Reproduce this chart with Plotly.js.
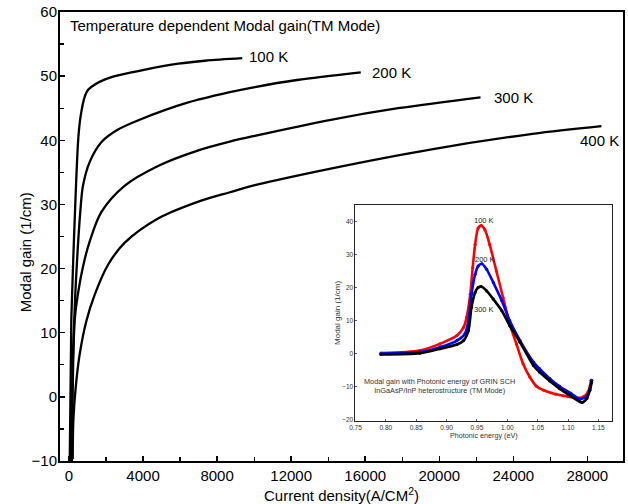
<!DOCTYPE html>
<html>
<head>
<meta charset="utf-8">
<script src="https://cdn.plot.ly/plotly-3.0.1.min.js"></script>
<style>html,body{margin:0;padding:0;background:#fff;}#chart{width:628px;height:504px;}</style>
</head>
<body>
<div id="chart"></div>
<script>
// ---- Main chart data: modal gain vs current density ----
var j100 = [40, 125, 160, 270, 500, 630, 860, 1040, 1950, 3740, 5540, 7340, 9360];
var g100 = [-10, 11.8, 15.3, 24.7, 40.2, 43.8, 46.9, 47.9, 49.5, 50.8, 51.8, 52.4, 52.8];

var j200 = [90, 200, 330, 470, 600, 755, 1115, 1745, 2600, 3815, 6440, 8690, 10040, 12320, 15760];
var g200 = [-10, 5, 15.4, 23, 28.5, 32.9, 36.6, 39.7, 41.6, 43.2, 45.9, 47.5, 48.3, 49.4, 50.6];

var j300 = [160, 305, 480, 755, 1115, 1745, 3000, 4810, 6950, 8690, 10040, 14140, 17780, 22230];
var g300 = [-10, 11.8, 16.0, 20.3, 24.2, 28.8, 32.9, 36.0, 38.4, 39.8, 40.7, 43.2, 45.0, 46.7];

var j400 = [200, 235, 360, 575, 935, 1385, 2110, 3000, 4810, 6950, 8690, 10040, 14140, 19590, 25040, 28760];
var g400 = [-9.7, -3.7, 1.4, 6.6, 11.8, 15.9, 20.6, 24.0, 27.8, 30.4, 31.9, 33.0, 35.6, 38.6, 41.0, 42.2];

var curveLabels = ["100 K", "200 K", "300 K", "400 K"];
var labelX = [9606, 16244, 22828, 27469];
var labelY = [53.0, 50.6, 46.7, 40.0];

var xTickVals = [0, 4000, 8000, 12000, 16000, 20000, 24000, 28000];
var xTickText = ["0", "4000", "8000", "12000", "16000", "20000", "24000", "28000"];
var yTickVals = [-10, 0, 10, 20, 30, 40, 50, 60];

// ---- Inset data: modal gain vs photonic energy ----
var e100 = [0.792, 0.856, 0.889, 0.917, 0.928, 0.933, 0.939, 0.943, 0.947, 0.952, 0.957, 0.963, 0.971, 0.982, 0.993, 1.004, 1.015, 1.026, 1.037, 1.048, 1.06, 1.08, 1.1, 1.113, 1.125, 1.133, 1.138];
var gi100 = [0.2, 1.0, 3.0, 5.5, 8.0, 11, 18, 26, 33, 38, 38.7, 37.5, 33, 25, 17, 9, 3, -3, -7, -9.8, -11, -12.2, -12.9, -13.3, -13, -11.5, -8];

var e200 = [0.792, 0.856, 0.889, 0.917, 0.93, 0.936, 0.941, 0.947, 0.952, 0.958, 0.966, 0.977, 0.991, 1.004, 1.021, 1.043, 1.053, 1.07, 1.086, 1.105, 1.12, 1.131, 1.136, 1.139];
var gi200 = [0.1, 0.5, 2, 4, 6, 10, 18, 24, 26.5, 27.2, 25.5, 21.5, 16, 10, 4, -2.5, -4.5, -7.5, -9.8, -12, -13.7, -12.8, -10.5, -8];

var e300 = [0.792, 0.856, 0.889, 0.917, 0.928, 0.936, 0.941, 0.947, 0.952, 0.957, 0.966, 0.977, 0.991, 1.004, 1.021, 1.043, 1.053, 1.07, 1.086, 1.105, 1.123, 1.131, 1.136, 1.139];
var gi300 = [-0.2, 0.2, 1.5, 2.8, 4, 7, 14, 18.5, 20, 20.3, 19, 16.5, 13, 8.5, 3.5, -3.5, -5.5, -8.2, -10.5, -12.8, -14.7, -13.5, -11, -8.5];

var insetLabels = ["100 K", "200 K", "300 K"];
var insetLabelX = [0.962, 0.964, 0.962];
var insetLabelY = [40.2, 28.5, 13.5];

var insetXTicks = [0.75, 0.80, 0.85, 0.90, 0.95, 1.00, 1.05, 1.10, 1.15];
var insetYTicks = [-20, -10, 0, 10, 20, 30, 40];

var FONT = "'Liberation Sans', Arial, Helvetica, sans-serif";

function mainLine(x, y) {
  return {x: x, y: y, xaxis: 'x', yaxis: 'y', mode: 'lines',
          line: {color: '#000', width: 2.3, shape: 'spline', smoothing: 0.9},
          hoverinfo: 'skip'};
}
function insetLine(x, y, c) {
  return {x: x, y: y, xaxis: 'x2', yaxis: 'y2', mode: 'lines+markers',
          line: {color: c, width: 2.6, shape: 'spline', smoothing: 0.7},
          marker: {color: c, size: 3.2},
          hoverinfo: 'skip'};
}

var traces = [
  mainLine(j100, g100), mainLine(j200, g200), mainLine(j300, g300), mainLine(j400, g400),
  insetLine(e100, gi100, '#ff0000'),
  insetLine(e200, gi200, '#0000ff'),
  insetLine(e300, gi300, '#000000')
];

var annotations = [];
for (var i = 0; i < curveLabels.length; i++) {
  annotations.push({x: labelX[i], y: labelY[i], xref: 'x', yref: 'y', text: curveLabels[i],
    showarrow: false, xanchor: 'left', yanchor: 'middle', font: {size: 15, family: FONT, color: '#000'}});
}
for (var k = 0; k < insetLabels.length; k++) {
  annotations.push({x: insetLabelX[k], y: insetLabelY[k], xref: 'x2', yref: 'y2', text: insetLabels[k],
    showarrow: false, xanchor: 'center', yanchor: 'middle', font: {size: 7.5, family: FONT, color: '#222'}});
}
annotations.push({x: 0.014, y: 0.971, xref: 'paper', yref: 'paper',
  text: 'Temperature dependent Modal gain(TM Mode)', showarrow: false,
  xanchor: 'left', yanchor: 'middle', font: {size: 15, family: FONT, color: '#000'}});
annotations.push({x: -0.0621, y: 0.465, xref: 'paper', yref: 'paper',
  text: 'Modal gain (1/cm)', showarrow: false, textangle: -90,
  xanchor: 'center', yanchor: 'middle', font: {size: 15, family: FONT, color: '#000'}});
annotations.push({x: 0.889, y: -9.6, xref: 'x2', yref: 'y2',
  text: 'Modal gain with Photonic energy of GRIN SCH<br>InGaAsP/InP heterostructure (TM Mode)',
  showarrow: false, xanchor: 'center', yanchor: 'middle', align: 'center',
  font: {size: 7.3, family: FONT, color: '#333'}});

var layout = {
  width: 628, height: 504,
  margin: {l: 60, r: 4.5, t: 12, b: 42.5, pad: 0},
  paper_bgcolor: '#fff', plot_bgcolor: '#fff',
  showlegend: false,
  font: {family: FONT, color: '#000'},
  xaxis: {
    domain: [0, 1], anchor: 'y', range: [-486, 29925],
    tickmode: 'array', tickvals: xTickVals, ticktext: xTickText,
    ticks: 'inside', ticklen: 5, tickwidth: 1.5, tickcolor: '#000',
    minor: {dtick: 2000, tick0: 0, ticks: 'inside', ticklen: 4, tickwidth: 1.2, tickcolor: '#000', showgrid: false},
    showline: true, linewidth: 2, linecolor: '#000', mirror: true,
    showgrid: false, zeroline: false,
    tickfont: {size: 15, family: FONT, color: '#000'},
    title: {text: 'Current density(A/CM<sup>2</sup>)', font: {size: 15, family: FONT, color: '#000'}, standoff: 8}
  },
  yaxis: {
    domain: [0, 1], anchor: 'x', range: [-10, 60],
    tickmode: 'array', tickvals: yTickVals,
    ticks: 'inside', ticklen: 5, tickwidth: 1.5, tickcolor: '#000',
    minor: {dtick: 5, tick0: 0, ticks: 'inside', ticklen: 4, tickwidth: 1.2, tickcolor: '#000', showgrid: false},
    showline: true, linewidth: 2, linecolor: '#000', mirror: true,
    showgrid: false, zeroline: false, ticklabelstandoff: -2,
    tickfont: {size: 15, family: FONT, color: '#000'}
  },
  xaxis2: {
    domain: [0.5248, 0.9808], anchor: 'y2', range: [0.75, 1.1727],
    tickmode: 'array', tickvals: insetXTicks, tickformat: '.2f',
    ticks: 'inside', ticklen: 2, tickwidth: 0.8, tickcolor: '#333',
    showline: true, linewidth: 1, linecolor: '#222', mirror: true,
    showgrid: false, zeroline: false,
    tickfont: {size: 6.5, family: FONT, color: '#333'},
    title: {text: 'Photonic energy (eV)', font: {size: 7.2, family: FONT, color: '#333'}, standoff: 1}
  },
  yaxis2: {
    domain: [0.089, 0.5706], anchor: 'x2', range: [-20.3, 45],
    tickmode: 'array', tickvals: insetYTicks,
    ticks: 'inside', ticklen: 2, tickwidth: 0.8, tickcolor: '#333',
    showline: true, linewidth: 1, linecolor: '#222', mirror: true,
    showgrid: false, zeroline: false, ticklabeloverflow: 'allow',
    tickfont: {size: 6.5, family: FONT, color: '#333'},
    title: {text: 'Modal gain (1/cm)', font: {size: 8, family: FONT, color: '#333'}, standoff: 0}
  },
  annotations: annotations
};

Plotly.newPlot('chart', traces, layout, {displayModeBar: false, staticPlot: true});
</script>
</body>
</html>
